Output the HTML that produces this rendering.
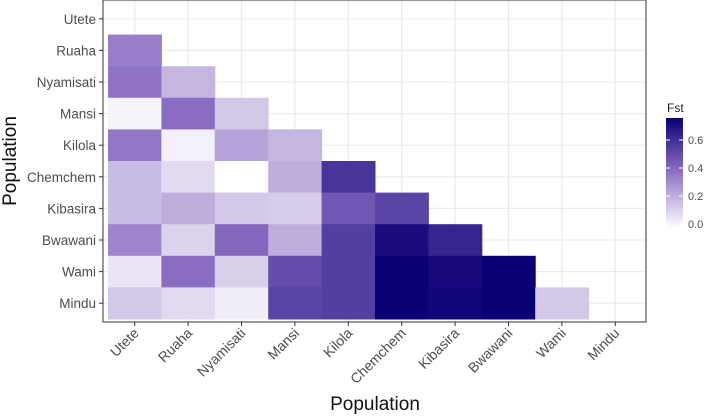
<!DOCTYPE html>
<html><head><meta charset="utf-8"><style>
body{margin:0;background:#fff;}
svg text{font-family:"Liberation Sans",Arial,sans-serif;}
</style></head><body>
<svg id="chart" width="709" height="414" xmlns="http://www.w3.org/2000/svg">
<defs><linearGradient id="lg" x1="0" y1="1" x2="0" y2="0">
<stop offset="0" stop-color="#ffffff"/><stop offset="0.53" stop-color="#8a6cc2"/><stop offset="1" stop-color="#0a0075"/>
</linearGradient></defs>
<g id="grid"></g><g id="tiles"></g><g id="axes"></g>
<text x="667" y="112" font-size="12" fill="#222">Fst</text>
<rect x="666" y="118" width="17" height="110" fill="url(#lg)"/>
<g id="legend"></g>
<text x="375" y="410" font-size="19" fill="#111" text-anchor="middle">Population</text>
<text transform="translate(16,161) rotate(-90)" font-size="19" fill="#111" text-anchor="middle">Population</text>
</svg>
<script>
const pops = ["Utete","Ruaha","Nyamisati","Mansi","Kilola","Chemchem","Kibasira","Bwawani","Wami","Mindu"];
const fstRows = [
 [],
 [0.35],
 [0.38,0.20],
 [0.03,0.40,0.15],
 [0.37,0.04,0.25,0.20],
 [0.18,0.10,0.00,0.22,0.58],
 [0.18,0.22,0.15,0.14,0.47,0.53],
 [0.33,0.12,0.42,0.22,0.55,0.71,0.63],
 [0.07,0.40,0.13,0.50,0.55,0.75,0.72,0.75],
 [0.15,0.10,0.05,0.53,0.55,0.75,0.73,0.75,0.15]
];
const legendTicks = [0.0,0.2,0.4,0.6];
const legendLabels = ["0.0","0.2","0.4","0.6"];
const NS="http://www.w3.org/2000/svg";
const x0=108,cw=53.4,y0=3,rh=31.6,L=103,R=646,T=0,B=322;
const xC=i=>x0+cw*(i+0.5), yC=i=>y0+rh*(i+0.5);
const lvY=v=>224-v*140;
function mk(tag,a,p){const e=document.createElementNS(NS,tag);for(const k in a)e.setAttribute(k,a[k]);p.appendChild(e);return e;}
function lerp(a,b,t){return a.map((v,i)=>Math.round(v+(b[i]-v)*t));}
function col(v){const w=[255,255,255],m=[138,108,194],n=[10,0,117];const s=0.4,t=Math.max(0,Math.min(1,v/0.75))*0.75;
 const c=t<s?lerp(w,m,t/s):lerp(m,n,(t-s)/(0.75-s));return `rgb(${c[0]},${c[1]},${c[2]})`;}
const grid=document.getElementById('grid'),tiles=document.getElementById('tiles'),axes=document.getElementById('axes'),leg=document.getElementById('legend');
pops.forEach((p,i)=>{
 let g=mk('line',{x1:xC(i),x2:xC(i),y1:T,y2:B,stroke:'#ebebeb','stroke-width':1.2},grid);
 
 
 g=mk('line',{x1:L,x2:R,y1:yC(i),y2:yC(i),stroke:'#ebebeb','stroke-width':1.2},grid);
 
 
});
fstRows.forEach((row,i)=>row.forEach((v,j)=>{
 const r=mk('rect',{x:x0+cw*j,y:y0+rh*i,width:cw+0.5,height:rh+0.5,fill:col(v)},tiles);
 
 
}));
let fr=mk('rect',{x:L,y:T,width:R-L,height:B-T,fill:'none',stroke:'#555','stroke-width':1.2},axes);


pops.forEach((p,i)=>{
 let t=mk('line',{x1:L-4,x2:L,y1:yC(i),y2:yC(i),stroke:'#333'},axes);
 
 
 let tx=mk('text',{x:L-7,y:yC(i)+5,'font-size':13.5,fill:'#4d4d4d','text-anchor':'end'},axes);tx.textContent=p;
 
 
 t=mk('line',{x1:xC(i),x2:xC(i),y1:B,y2:B+4,stroke:'#333'},axes);
 
 
 tx=mk('text',{transform:`translate(${xC(i)+5},${B+12}) rotate(-45)`,'font-size':14,fill:'#4d4d4d','text-anchor':'end'},axes);tx.textContent=p;
 
 
});
legendTicks.forEach((v,i)=>{
 let l=mk('line',{x1:666,x2:670,y1:lvY(v),y2:lvY(v),stroke:'#fff'},leg);
 
 
 l=mk('line',{x1:679,x2:683,y1:lvY(v),y2:lvY(v),stroke:'#fff'},leg);
 
 
 const t=mk('text',{x:688,y:lvY(v)+4,'font-size':11,fill:'#4d4d4d'},leg);t.textContent=legendLabels[i];
 
 
});
</script>
</body></html>
